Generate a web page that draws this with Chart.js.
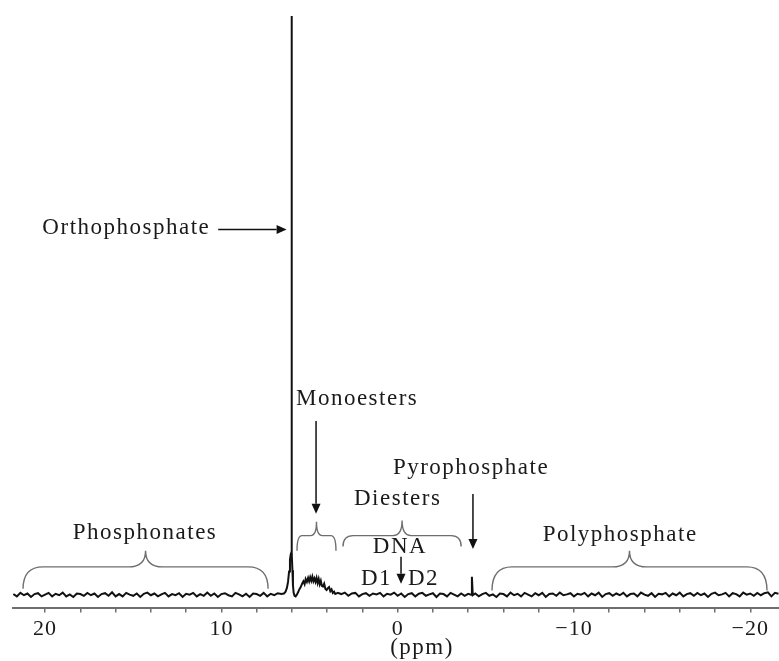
<!DOCTYPE html>
<html>
<head>
<meta charset="utf-8">
<title>31P NMR spectrum</title>
<script src="https://cdn.jsdelivr.net/npm/chart.js@4/dist/chart.umd.min.js"></script>
<style>
  html, body { margin: 0; padding: 0; background: #fff; }
  canvas { display: block; }
</style>
</head>
<body>
<canvas id="spectrum" width="779" height="661"></canvas>
<script>
// Chemical shift (ppm) and relative intensity (orthophosphate peak = 100)

// baseline, phosphonate region
const shiftLeft = [
  21.8, 21.6, 21.4, 21.2, 21.0, 20.8, 20.6, 20.4, 20.2, 20.0,
  19.8, 19.6, 19.4, 19.2, 19.0, 18.8, 18.6, 18.4, 18.2, 18.0,
  17.8, 17.6, 17.4, 17.2, 17.0, 16.8, 16.6, 16.4, 16.2, 16.0,
  15.8, 15.6, 15.4, 15.2, 15.0, 14.8, 14.6, 14.4, 14.2, 14.0,
  13.8, 13.6, 13.4, 13.2, 13.0, 12.8, 12.6, 12.4, 12.2, 12.0,
  11.8, 11.6, 11.4, 11.2, 11.0, 10.8, 10.6, 10.4, 10.2, 10.0,
  9.8, 9.6, 9.4, 9.2, 9.0, 8.8, 8.6, 8.4, 8.2, 8.0,
  7.8, 7.6, 7.4, 7.2, 7.0, 6.8, 6.6
];
const signalLeft = [
  0.1, -0.3, 0.3, -0.1, 0.2, -0.4, 0.1, 0.25, -0.3, 0.0,
  0.3, -0.3, 0.15, -0.1, 0.35, -0.3, 0.05, -0.4, 0.2, 0.1,
  -0.2, 0.3, -0.1, 0.2, -0.4, 0.1, 0.25, -0.2, 0.4, -0.3,
  0.1, -0.3, 0.3, 0.0, -0.2, 0.2, -0.4, 0.15, 0.35, -0.1,
  0.2, -0.3, 0.05, 0.3, -0.3, 0.1, -0.1, 0.25, -0.4, 0.15,
  0.0, 0.3, -0.3, 0.1, -0.2, 0.35, -0.2, 0.2, -0.4, 0.1,
  0.25, -0.1, -0.3, 0.3, 0.05, -0.3, 0.15, -0.4, 0.2, 0.1,
  -0.2, 0.3, -0.3, 0.15, -0.1, 0.25, 0.1
];

// orthophosphate peak and monoester hump
const shiftMono = [
  6.45, 6.36, 6.28, 6.22, 6.16, 6.11, 6.07, 6.04, 6.02, 6.00,
  5.97, 5.94, 5.90, 5.85, 5.79, 5.72, 5.65, 5.58, 5.50, 5.42,
  5.35, 5.28, 5.22, 5.15, 5.08, 5.02, 4.96, 4.90, 4.84, 4.78,
  4.72, 4.66, 4.60, 4.54, 4.48, 4.42, 4.36, 4.30, 4.24, 4.17,
  4.10, 4.03, 3.96, 3.89, 3.82, 3.75, 3.68, 3.61, 3.54
];
const signalMono = [
  0.2, 0.5, 1.2, 2.2, 4.0, 6.0, 6.9, 7.2, 100, 7.0,
  4.2, 1.6, 0.3, -0.2, -0.3, 0.0, 0.4, 0.9, 1.3, 1.9,
  2.3, 1.8, 2.7, 2.2, 2.9, 2.3, 3.0, 2.4, 3.1, 2.3,
  2.8, 2.2, 2.9, 2.0, 2.7, 1.8, 2.4, 1.5, 1.4, 1.9,
  1.0, 0.8, 1.1, 1.3, 0.6, 0.9, 0.3, 0.5, 0.1
];

// diester region + pyrophosphate spike
const shiftMid = [
  3.4, 3.2, 3.0, 2.8, 2.6, 2.4, 2.2, 2.0, 1.8, 1.6,
  1.4, 1.2, 1.0, 0.8, 0.6, 0.4, 0.2, 0.0, -0.2, -0.4,
  -0.6, -0.8, -1.0, -1.2, -1.4, -1.6, -1.8, -2.0, -2.2, -2.4,
  -2.6, -2.8, -3.0, -3.2, -3.4, -3.6, -3.8, -4.0,
  -4.16, -4.21, -4.26
];
const signalMid = [
  0.3, 0.1, 0.35, -0.2, 0.2, 0.3, -0.3, 0.1, 0.25, -0.2,
  0.2, 0.05, 0.3, -0.3, 0.15, 0.0, 0.35, -0.2, 0.2, -0.4,
  0.1, 0.25, -0.3, 0.15, 0.3, -0.2, 0.05, 0.25, -0.4, 0.2,
  0.1, -0.3, 0.3, 0.0, -0.3, 0.2, -0.2, 0.15,
  0.0, 3.1, -0.1
];

// polyphosphate region
const shiftRight = [
  -4.4, -4.6, -4.8, -5.0, -5.2, -5.4, -5.6, -5.8, -6.0, -6.2,
  -6.4, -6.6, -6.8, -7.0, -7.2, -7.4, -7.6, -7.8, -8.0, -8.2,
  -8.4, -8.6, -8.8, -9.0, -9.2, -9.4, -9.6, -9.8, -10.0, -10.2,
  -10.4, -10.6, -10.8, -11.0, -11.2, -11.4, -11.6, -11.8, -12.0, -12.2,
  -12.4, -12.6, -12.8, -13.0, -13.2, -13.4, -13.6, -13.8, -14.0, -14.2,
  -14.4, -14.6, -14.8, -15.0, -15.2, -15.4, -15.6, -15.8, -16.0, -16.2,
  -16.4, -16.6, -16.8, -17.0, -17.2, -17.4, -17.6, -17.8, -18.0, -18.2,
  -18.4, -18.6, -18.8, -19.0, -19.2, -19.4, -19.6, -19.8, -20.0, -20.2,
  -20.4, -20.6, -20.8, -21.0, -21.2, -21.4, -21.6
];
const signalRight = [
  0.2, -0.3, 0.1, 0.3, -0.2, 0.05, -0.4, 0.2, 0.1, -0.3,
  0.35, -0.1, 0.15, -0.3, 0.3, 0.0, -0.3, 0.25, -0.1, 0.3,
  -0.4, 0.1, 0.2, -0.2, 0.35, -0.1, 0.05, 0.25, -0.3, 0.15,
  0.0, 0.3, -0.3, 0.2, -0.1, 0.35, -0.4, 0.1, 0.25, -0.2,
  0.2, -0.1, 0.3, -0.3, 0.1, 0.2, -0.3, 0.35, 0.0, -0.2,
  0.25, -0.4, 0.15, 0.05, 0.3, -0.3, 0.2, -0.1, 0.35, -0.3,
  0.1, 0.25, -0.2, 0.3, -0.1, 0.2, -0.4, 0.15, 0.35, -0.1,
  0.05, 0.3, -0.3, 0.25, 0.1, -0.3, 0.35, 0.0, 0.2, -0.2,
  0.3, -0.1, 0.25, 0.4, -0.3, 0.3, 0.15
];

// axis ticks
const tickValues = [20, 18, 16, 14, 12, 10, 8, 6, 4, 2, 0, -2, -4, -6, -8, -10, -12, -14, -16, -18, -20];
const majorTicks = [20, 10, 0, -10, -20];
const majorLabels = ['20', '10', '0', '\u221210', '\u221220'];

// annotations (x in ppm, y in intensity units)
const labels = [
  { text: 'Orthophosphate', x: 10.63, y: 62.4, align: 'right' },
  { text: 'Monoesters', x: 5.77, y: 32.8, align: 'left' },
  { text: 'Pyrophosphate', x: 0.27, y: 20.9, align: 'left' },
  { text: 'Diesters', x: 0.0, y: 15.5, align: 'center' },
  { text: 'DNA', x: -0.13, y: 7.2, align: 'center' },
  { text: 'D1', x: 0.32, y: 1.7, align: 'right' },
  { text: 'D2', x: -0.58, y: 1.7, align: 'left' },
  { text: 'Phosphonates', x: 14.33, y: 9.65, align: 'center' },
  { text: 'Polyphosphate', x: -12.62, y: 9.3, align: 'center' },
  { text: '(ppm)', x: -1.38, y: -10.2, align: 'center' }
];
const arrows = [
  { x1: 10.18, y1: 63.1, x2: 6.30, y2: 63.1 },
  { x1: 4.63, y1: 30.0, x2: 4.63, y2: 14.0 },
  { x1: -0.19, y1: 6.55, x2: -0.19, y2: 1.9 },
  { x1: -4.27, y1: 17.4, x2: -4.27, y2: 7.9 }
];
const braces = [
  { from: 21.25, to: 7.35, end: 1.0, bar: 4.8, tip: 7.6, rEnd: 20, rTip: 17 },
  { from: 5.71, to: 3.5, end: 7.6, bar: 10.2, tip: 12.6, rEnd: 5, rTip: 6 },
  { from: 3.1, to: -3.6, end: 8.3, bar: 10.2, tip: 12.8, rEnd: 10, rTip: 9 },
  { from: -5.35, to: -20.95, end: 0.7, bar: 4.8, tip: 7.6, rEnd: 20, rTip: 17 }
];

const TEXT_COLOR = '#1a1a1a';
const BRACE_COLOR = '#6d6e71';
const FONT = '"Liberation Serif", "Times New Roman", serif';

function buildPoints() {
  const xs = shiftLeft.concat(shiftMono, shiftMid, shiftRight);
  const ys = signalLeft.concat(signalMono, signalMid, signalRight);
  return xs.map((x, i) => ({ x: x, y: ys[i] }));
}

function drawBrace(ctx, xL, xR, yEnd, yBar, yTip, rEnd, rTip) {
  const xC = (xL + xR) / 2;
  ctx.beginPath();
  ctx.moveTo(xL, yEnd);
  ctx.quadraticCurveTo(xL, yBar, xL + rEnd, yBar);
  ctx.lineTo(xC - rTip, yBar);
  ctx.quadraticCurveTo(xC, yBar, xC, yTip);
  ctx.quadraticCurveTo(xC, yBar, xC + rTip, yBar);
  ctx.lineTo(xR - rEnd, yBar);
  ctx.quadraticCurveTo(xR, yBar, xR, yEnd);
  ctx.stroke();
}

function drawArrow(ctx, x1, y1, x2, y2) {
  const head = 10, half = 4.5;
  const ang = Math.atan2(y2 - y1, x2 - x1);
  const bx = x2 - head * Math.cos(ang), by = y2 - head * Math.sin(ang);
  ctx.beginPath();
  ctx.moveTo(x1, y1);
  ctx.lineTo(bx, by);
  ctx.stroke();
  ctx.beginPath();
  ctx.moveTo(x2, y2);
  ctx.lineTo(bx + half * Math.sin(ang), by - half * Math.cos(ang));
  ctx.lineTo(bx - half * Math.sin(ang), by + half * Math.cos(ang));
  ctx.closePath();
  ctx.fill();
}

const annotationPlugin = {
  id: 'annotations',
  beforeDraw(chart) {
    chart.ctx.letterSpacing = '1px';
  },
  afterDatasetsDraw(chart) {
    const ctx = chart.ctx;
    const px = v => chart.scales.x.getPixelForValue(v);
    const py = v => chart.scales.y.getPixelForValue(v);
    ctx.save();
    ctx.strokeStyle = BRACE_COLOR;
    ctx.lineWidth = 1.4;
    braces.forEach(b => drawBrace(ctx, px(b.from), px(b.to), py(b.end), py(b.bar), py(b.tip), b.rEnd, b.rTip));

    ctx.strokeStyle = '#111';
    ctx.fillStyle = '#111';
    ctx.lineWidth = 1.5;
    arrows.forEach(a => drawArrow(ctx, px(a.x1), py(a.y1), px(a.x2), py(a.y2)));

    ctx.fillStyle = TEXT_COLOR;
    ctx.font = '23px ' + FONT;
    ctx.letterSpacing = '1.5px';
    ctx.textBaseline = 'alphabetic';
    labels.forEach(l => {
      ctx.textAlign = l.align;
      ctx.fillText(l.text, px(l.x), py(l.y));
    });
    ctx.restore();
  },
  afterDraw(chart) {
    chart.ctx.letterSpacing = '0px';
  }
};

const ctx = document.getElementById('spectrum').getContext('2d');
new Chart(ctx, {
  type: 'line',
  data: {
    datasets: [{
      data: buildPoints(),
      borderColor: '#111',
      borderWidth: 2,
      pointRadius: 0,
      tension: 0,
      fill: false
    }]
  },
  options: {
    responsive: false,
    animation: false,
    devicePixelRatio: 1,
    layout: { padding: { left: 13, right: 0, top: 16, bottom: 16 } },
    plugins: {
      legend: { display: false },
      tooltip: { enabled: false }
    },
    scales: {
      x: {
        type: 'linear',
        reverse: true,
        min: -21.63,
        max: 21.82,
        afterBuildTicks: axis => {
          axis.ticks = tickValues.map(v => ({ value: v }));
        },
        grid: {
          display: true,
          drawOnChartArea: false,
          drawTicks: true,
          tickLength: 5,
          color: '#6d6e71',
          lineWidth: 1.5
        },
        border: { display: true, color: '#6d6e71', width: 2 },
        ticks: {
          autoSkip: false,
          maxRotation: 0,
          padding: 3,
          color: TEXT_COLOR,
          font: { family: FONT, size: 22 },
          callback: v => {
            const i = majorTicks.indexOf(v);
            return i >= 0 ? majorLabels[i] : '';
          }
        }
      },
      y: {
        display: false,
        min: -2.24,
        max: 100
      }
    }
  },
  plugins: [annotationPlugin]
});
</script>
</body>
</html>
